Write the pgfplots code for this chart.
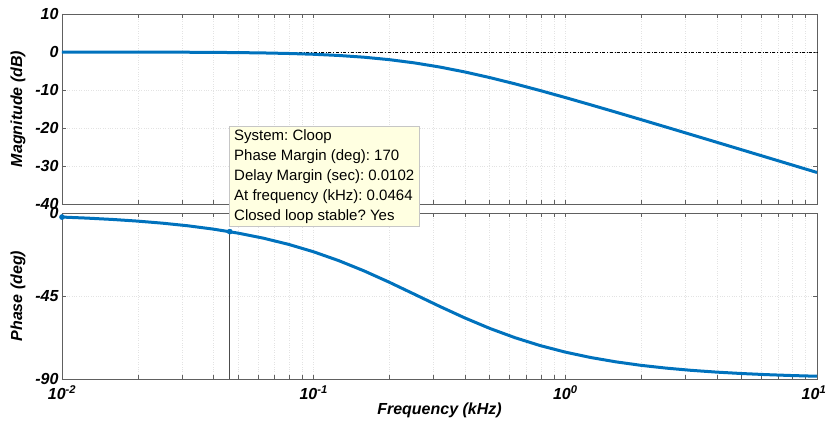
\documentclass[border=0pt]{standalone}
\usepackage{pgfplots}
\usepackage{pgfplotstable}
\pgfplotsset{compat=1.18}
\usepackage{fontspec}
\setmainfont{Liberation Sans}
\frenchspacing
\definecolor{mblue}{RGB}{0,114,189}
\definecolor{tipbg}{RGB}{255,255,225}

\pgfplotstableread{
f mag phase
0.01 -0.006 -2.20
0.012589 -0.010 -2.77
0.015849 -0.016 -3.49
0.019953 -0.026 -4.39
0.025119 -0.040 -5.52
0.031623 -0.064 -6.93
0.039811 -0.101 -8.71
0.050119 -0.158 -10.91
0.063096 -0.249 -13.64
0.079433 -0.388 -16.99
0.1 -0.599 -21.04
0.12589 -0.915 -25.84
0.15849 -1.372 -31.37
0.19953 -2.011 -37.50
0.25119 -2.863 -44.02
0.31623 -3.943 -50.57
0.39811 -5.243 -56.85
0.50119 -6.736 -62.58
0.63096 -8.381 -67.60
0.79433 -10.143 -71.88
1.0 -11.985 -75.43
1.2589 -13.882 -78.33
1.5849 -15.816 -80.68
1.9953 -17.774 -82.58
2.5119 -19.747 -84.09
3.1623 -21.730 -85.30
3.9811 -23.719 -86.26
5.0119 -25.712 -87.03
6.3096 -27.708 -87.64
7.9433 -29.705 -88.13
10.0 -31.703 -88.51
}\bode

\pgfplotsset{bodestyle/.style={
  scale only axis, width=755pt, xmin=0.01, xmax=10,
  axis line style={gray!75!black, line width=0.6pt},
  tick style={gray!75!black, line width=0.5pt},
  tick align=inside, major tick length=4pt, minor tick length=4pt,
  xmajorgrids, xminorgrids, ymajorgrids,
  grid style={gray!22, dotted, line width=0.5pt},
  ticklabel style={font=\fontsize{16}{16}\selectfont\bfseries\itshape},
  label style={font=\fontsize{16}{16}\selectfont\bfseries\itshape},
  clip=false,
}}

\begin{document}
\begin{tikzpicture}
\path[use as bounding box] (0pt,0pt) rectangle (827pt,422pt);

\begin{semilogxaxis}[bodestyle,
  at={(62pt,218pt)}, anchor=south west, height=190pt,
  ymin=-40, ymax=10, ytick={-40,-30,-20,-10,0,10},
  yticklabels={-40,-30,-20,-10,0,10},
  xticklabels={},
  ylabel={Magnitude (dB)},
  ylabel style={at={(axis description cs:-0.0584,0.5)}, anchor=center},
]
\addplot[black, dash dot, line width=0.5pt] coordinates {(0.01,0) (10,0)};
\addplot[mblue, line width=3pt] table[x=f, y=mag] {\bode};
\end{semilogxaxis}

\begin{semilogxaxis}[bodestyle,
  at={(62pt,43pt)}, anchor=south west, height=166pt,
  ymin=-90, ymax=0, ytick={-90,-45,0},
  yticklabels={-90,-45,0},
  xtick={0.01,0.1,1,10},
  xticklabels={10\textsuperscript{-2},10\textsuperscript{-1},10\textsuperscript{0},10\textsuperscript{1}\kern6pt\relax},
  xticklabel style={yshift=-3pt},
  ylabel={Phase (deg)},
  ylabel style={at={(axis description cs:-0.0584,0.5)}, anchor=center},
  xlabel={Frequency (kHz)},
  xlabel style={at={(axis description cs:0.5,-0.187)}, anchor=center},
]
\addplot[black!70, line width=0.5pt] coordinates {(0.0464,-10.1) (0.0464,-90)};
\addplot[mblue, line width=3pt] table[x=f, y=phase] {\bode};
\addplot[only marks, mark=*, mark size=2.6pt, mblue] coordinates {(0.01,-2.2) (0.0464,-10.1)};
\end{semilogxaxis}

\node[draw=gray!45, fill=tipbg, anchor=north west, align=left,
  inner xsep=5pt, inner ysep=3pt, font=\fontsize{15}{20}\selectfont]
  at (229pt,296pt) {System: Cloop\\Phase Margin (deg): 170\\Delay Margin (sec): 0.0102\\At frequency (kHz): 0.0464\\Closed loop stable? Yes};
\end{tikzpicture}
\end{document}
